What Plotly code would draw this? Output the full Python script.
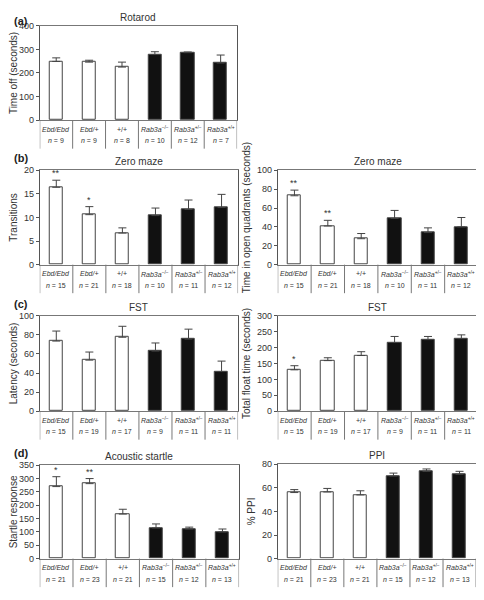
import plotly.graph_objects as go

# ---------------- data ----------------
groups = ["Ebd/Ebd", "Ebd/+", "+/+", "Rab3a-/-", "Rab3a+/-", "Rab3a+/+"]
group_labels = ["<i>Ebd/Ebd</i>", "<i>Ebd/+</i>", "+/+",
                "<i>Rab3a</i><sup>−/−</sup>", "<i>Rab3a</i><sup>+/−</sup>",
                "<i>Rab3a</i><sup>+/+</sup>"]
bar_fill = ["white", "white", "white", "#111111", "#111111", "#111111"]

rotarod_mean = [249, 246, 225, 278, 286, 242]
rotarod_sem = [15, 8, 21, 12, 3, 34]
rotarod_n = [9, 9, 8, 10, 12, 7]
rotarod_sig = ["", "", "", "", "", ""]

zm_trans_mean = [16.4, 10.6, 6.7, 10.4, 11.7, 12.1]
zm_trans_sem = [1.5, 1.7, 1.1, 1.6, 2.0, 2.8]
zm_n = [15, 21, 18, 10, 11, 12]
zm_trans_sig = ["**", "*", "", "", "", ""]

zm_open_mean = [73, 41, 27.5, 49, 34, 40]
zm_open_sem = [6, 6, 5.5, 8.5, 5, 10]
zm_open_sig = ["**", "**", "", "", "", ""]

fst_lat_mean = [73.5, 53.5, 77.5, 63, 75.5, 41.5]
fst_lat_sem = [10.5, 8.5, 11.5, 8.5, 10.5, 11]
fst_n = [15, 19, 17, 9, 11, 11]
fst_lat_sig = ["", "", "", "", "", ""]

fst_float_mean = [130, 159, 175, 216, 225, 228]
fst_float_sem = [13, 9, 12, 19, 10, 12]
fst_float_sig = ["*", "", "", "", "", ""]

startle_mean = [270, 281, 167, 115, 111, 100]
startle_sem = [37, 19, 18, 15, 7, 11]
startle_n = [21, 23, 21, 15, 12, 13]
startle_sig = ["*", "**", "", "", "", ""]

ppi_mean = [56, 56.5, 54, 70, 74, 71.5]
ppi_sem = [2.5, 3, 3.5, 2.5, 2, 2.5]
ppi_sig = ["", "", "", "", "", ""]

# page body has an 8px margin: build the figure 8px smaller and shift coordinates
OFF = 8
W, H = 484 - OFF, 600 - OFF
FONT = "Liberation Sans, Arial, sans-serif"


def px_x(v):
    return (v - OFF) / W


def px_y(v):
    return 1 - (v - OFF) / H


# panel: (title, ytitle, mean, sem, n, sig, yrange, dtick, x px, y px, letter)
panels = [
    ("Rotarod", "Time off (seconds)", rotarod_mean, rotarod_sem, rotarod_n, rotarod_sig,
     [0, 400], 100, (36, 235), (21, 117), "(a)"),
    ("Zero maze", "Transitions", zm_trans_mean, zm_trans_sem, zm_n, zm_trans_sig,
     [0, 20], 5, (36, 236), (168, 264), "(b)"),
    ("Zero maze", "Time in open quadrants (seconds)", zm_open_mean, zm_open_sem, zm_n, zm_open_sig,
     [0, 100], 20, (276, 478), (168, 264), None),
    ("FST", "Latency (seconds)", fst_lat_mean, fst_lat_sem, fst_n, fst_lat_sig,
     [0, 100], 20, (36, 236), (316, 413), "(c)"),
    ("FST", "Total float time (seconds)", fst_float_mean, fst_float_sem, fst_n, fst_float_sig,
     [0, 300], 50, (276, 478), (316, 413), None),
    ("Acoustic startle", "Startle response", startle_mean, startle_sem, startle_n, startle_sig,
     [0, 350], 50, (36, 237), (468, 563), "(d)"),
    ("PPI", "% PPI", ppi_mean, ppi_sem, startle_n, ppi_sig,
     [0, 80], 20, (276, 476), (467, 563), None),
]

fig = go.Figure()
layout = {}
annotations = []
shapes = []

for k, (title, ytitle, mean, sem, n, sig, yr, dt, xpx, ypx, letter) in enumerate(panels, start=1):
    xa = "x" if k == 1 else f"x{k}"
    ya = "y" if k == 1 else f"y{k}"
    xkey = "xaxis" if k == 1 else f"xaxis{k}"
    ykey = "yaxis" if k == 1 else f"yaxis{k}"
    plot_h = ypx[1] - ypx[0]
    xs = list(range(len(groups)))

    fig.add_trace(go.Bar(
        x=xs, y=mean, xaxis=xa, yaxis=ya, width=0.4, textposition="none",
        marker=dict(color=bar_fill, line=dict(color="#444444", width=1)),
        error_y=dict(type="data", array=sem, arrayminus=[0] * len(sem), symmetric=False,
                     color="#444444", thickness=1, width=4),
        showlegend=False, hoverinfo="skip",
    ))

    layout[xkey] = dict(domain=[px_x(xpx[0]), px_x(xpx[1])], range=[-0.5, len(groups) - 0.5],
                        anchor=ya, showticklabels=False, ticks="", showgrid=False,
                        zeroline=False, showline=True, linecolor="#777777", linewidth=1,
                        mirror=True, fixedrange=True)
    layout[ykey] = dict(domain=[px_y(ypx[1]), px_y(ypx[0])], range=yr, dtick=dt,
                        anchor=xa, showgrid=False, zeroline=False, showline=True,
                        linecolor="#555555", linewidth=1, mirror=True, ticks="outside",
                        ticklen=3, tickcolor="#555555",
                        tickfont=dict(size=9, color="#333333", family=FONT),
                        title=dict(text=ytitle, font=dict(size=10, color="#333333", family=FONT),
                                   standoff=4),
                        fixedrange=True)

    # title
    annotations.append(dict(text=title, xref=f"{xa} domain", yref=f"{ya} domain", x=0.5, y=1,
                            yanchor="bottom", yshift=1, showarrow=False,
                            font=dict(size=10, color="#333333", family=FONT)))
    if letter:
        if k == 1:
            annotations.append(dict(text=f"<b>{letter}</b>", xref="paper", yref="paper",
                                    x=0, y=1, xanchor="left", yanchor="top",
                                    showarrow=False,
                                    font=dict(size=11, color="#222222", family=FONT)))
        else:
            annotations.append(dict(text=f"<b>{letter}</b>", xref="paper", yref=f"{ya} domain",
                                    x=0, y=1, xanchor="left", yanchor="bottom", yshift=4,
                                    showarrow=False,
                                    font=dict(size=11, color="#222222", family=FONT)))

    # category table
    for i in range(len(groups) + 1):
        shapes.append(dict(type="line", xref=xa, yref=f"{ya} domain", x0=i - 0.5, x1=i - 0.5,
                           y0=0, y1=-29 / plot_h, line=dict(color="#777777", width=1)))
    for i, (lab, nn) in enumerate(zip(group_labels, n)):
        annotations.append(dict(text=lab, xref=xa, yref=f"{ya} domain", x=i, y=-9 / plot_h,
                                yanchor="middle", showarrow=False,
                                font=dict(size=7, color="#333333", family=FONT)))
        annotations.append(dict(text=f"<i>n</i> = {nn}", xref=xa, yref=f"{ya} domain", x=i,
                                y=-21 / plot_h, yanchor="middle", showarrow=False,
                                font=dict(size=7, color="#333333", family=FONT)))
    # significance markers
    for i, s in enumerate(sig):
        if s:
            annotations.append(dict(text=s, xref=xa, yref=ya, x=i, y=mean[i] + sem[i],
                                    yanchor="bottom", yshift=0, showarrow=False,
                                    font=dict(size=9, color="#333333", family=FONT)))

fig.update_layout(**layout)
fig.update_layout(width=W, height=H, margin=dict(l=0, r=0, t=0, b=0),
                  paper_bgcolor="white", plot_bgcolor="white",
                  annotations=annotations, shapes=shapes, bargap=0,
                  font=dict(family=FONT))

fig.write_html("out.html")
